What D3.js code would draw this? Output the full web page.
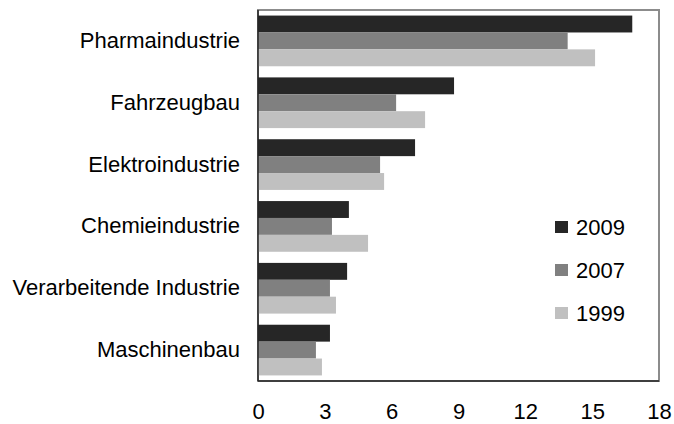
<!DOCTYPE html>
<html>
<head>
<meta charset="utf-8">
<script src="https://cdn.jsdelivr.net/npm/d3@7"></script>
<style>
  body { margin: 0; background: #fff; }
  text { font-family: "Liberation Sans", Arial, sans-serif; fill: #000; }
</style>
</head>
<body>
<div id="chart"></div>
<script>
// Branchen and their values (from the picture)
const categories = ['Pharmaindustrie', 'Fahrzeugbau', 'Elektroindustrie', 'Chemieindustrie', 'Verarbeitende Industrie', 'Maschinenbau'];
const years = ['2009', '2007', '1999'];
const values2009 = [16.8, 8.8, 7.05, 4.08, 4.0, 3.23];
const values2007 = [13.9, 6.2, 5.48, 3.32, 3.23, 2.6];
const values1999 = [15.13, 7.5, 5.66, 4.94, 3.5, 2.87];
const xTicks = [0, 3, 6, 9, 12, 15, 18];
const colors = ['#262626', '#808080', '#c0c0c0'];

const series = [values2009, values2007, values1999];
const rows = categories.map((c, i) => ({ cat: c, vals: series.map(s => s[i]) }));

const width = 674, height = 424;
const margin = { top: 10, right: 15, bottom: 43, left: 258 };
const fontStack = '"Liberation Sans", Arial, sans-serif';
const fontSize = '22px';

const svg = d3.select('#chart').append('svg')
    .attr('width', width)
    .attr('height', height);

const x = d3.scaleLinear()
    .domain([0, 18])
    .range([margin.left, width - margin.right]);

const y = d3.scaleBand()
    .domain(categories)
    .range([margin.top, height - margin.bottom])
    .paddingInner(0.18)
    .paddingOuter(0.09);

const yInner = d3.scaleBand()
    .domain(years)
    .range([0, y.bandwidth()]);

// plot frame
svg.append('rect')
    .attr('x', x(0))
    .attr('y', margin.top)
    .attr('width', x(18) - x(0))
    .attr('height', height - margin.bottom - margin.top)
    .attr('fill', 'none')
    .attr('stroke', '#8c8c8c')
    .attr('stroke-width', 2);

// bars
const groups = svg.append('g').selectAll('g')
    .data(rows)
    .join('g')
    .attr('transform', d => `translate(0,${y(d.cat)})`);

groups.selectAll('rect')
    .data(d => d.vals.map((v, j) => ({ v, year: years[j], j })))
    .join('rect')
    .attr('x', x(0))
    .attr('y', d => yInner(d.year))
    .attr('width', d => x(d.v) - x(0))
    .attr('height', yInner.bandwidth())
    .attr('fill', d => colors[d.j]);

// left and bottom axis lines
svg.append('line')
    .attr('x1', x(0)).attr('x2', x(0))
    .attr('y1', margin.top).attr('y2', height - margin.bottom)
    .attr('stroke', '#262626').attr('stroke-width', 1.5);
svg.append('line')
    .attr('x1', x(0)).attr('x2', x(18))
    .attr('y1', height - margin.bottom).attr('y2', height - margin.bottom)
    .attr('stroke', '#262626').attr('stroke-width', 1.5);

// x tick labels
const xAxis = svg.append('g')
    .attr('transform', `translate(0,${height - margin.bottom})`)
    .call(d3.axisBottom(x).tickValues(xTicks).tickSize(0).tickPadding(22));
xAxis.select('.domain').remove();
xAxis.selectAll('text')
    .style('font-size', fontSize)
    .style('font-family', fontStack)
    .attr('fill', '#000');

// y category labels
const yAxis = svg.append('g')
    .attr('transform', `translate(${x(0)},0)`)
    .call(d3.axisLeft(y).tickSize(0).tickPadding(18));
yAxis.select('.domain').remove();
yAxis.selectAll('text')
    .style('font-size', fontSize)
    .style('font-family', fontStack)
    .attr('fill', '#000');

// legend
const legend = svg.append('g').selectAll('g')
    .data(years)
    .join('g')
    .attr('transform', (d, i) => `translate(555,${227 + i * 43})`);
legend.append('rect')
    .attr('x', 0).attr('y', -6)
    .attr('width', 13).attr('height', 12)
    .attr('fill', (d, i) => colors[i]);
legend.append('text')
    .attr('x', 21).attr('y', 0)
    .attr('dy', '0.35em')
    .style('font-size', fontSize)
    .style('font-family', fontStack)
    .text(d => d);
</script>
</body>
</html>
